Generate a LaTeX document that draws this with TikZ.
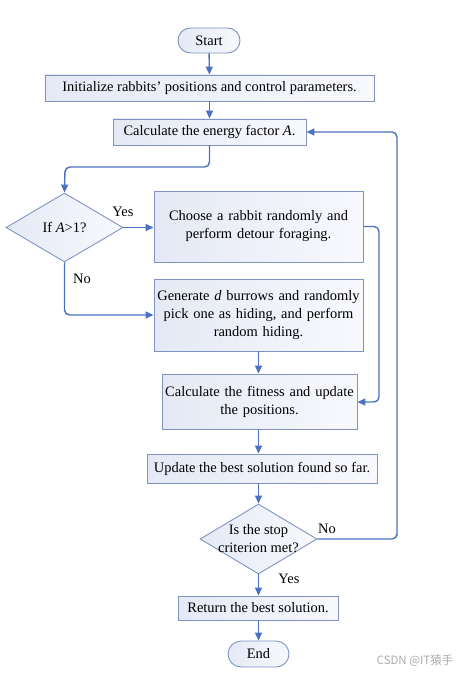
\documentclass[tikz,border=0pt]{standalone}
\usepackage{fontspec}
\setmainfont{Liberation Serif}
\newfontfamily\cjkfont{Noto Sans CJK SC}
\usetikzlibrary{shapes.geometric,shapes.misc,arrows.meta}
\definecolor{edgeblue}{HTML}{7F93C2}
\definecolor{arrowblue}{HTML}{4A72C0}
\definecolor{fillA}{HTML}{E4E9F5}
\definecolor{fillB}{HTML}{F8F9FD}
\tikzset{
  procbox/.style={draw=edgeblue, line width=0.9bp, left color=fillA, right color=fillB,
    inner sep=0pt, align=center, font=\fontsize{14.5}{18}\selectfont},
  termbox/.style={draw=edgeblue, line width=0.9bp, left color=fillA, right color=fillB,
    rounded rectangle, inner sep=0pt, font=\fontsize{14.5}{17}\selectfont},
  decbox/.style={draw=edgeblue, line width=0.9bp, left color=fillA, right color=fillB,
    diamond, inner sep=0pt},
  dectext/.style={align=center, inner sep=0pt, font=\fontsize{14.5}{18}\selectfont},
  flow/.style={draw=arrowblue, line width=1.4bp, rounded corners=5bp,
    -{Triangle[length=8bp,width=7bp]}},
  lbl/.style={inner sep=0pt, font=\fontsize{14.5}{17}\selectfont},
}
\begin{document}
\begin{tikzpicture}[x=1bp,y=-1bp]
\useasboundingbox (0,0) rectangle (473,676);
\fill[white] (0,0) rectangle (473,676);

\node[termbox, minimum width=62bp, minimum height=25bp] (start) at (209,40.5) {Start};
\node[procbox, minimum width=329bp, minimum height=26bp] (init) at (209.5,88) {Initialize rabbits' positions and control parameters.};
\node[procbox, minimum width=193bp, minimum height=26bp] (energy) at (209.5,132) {Calculate the energy factor \textit{A}.};

\node[decbox, minimum width=117bp, minimum height=69bp] (d1) at (64.5,227.5) {};
\node[dectext] (d1t) at (d1.center) {If \textit{A}>1?};

\node[procbox, minimum width=209bp, minimum height=71bp, text width=205bp] (choose) at (258.5,226.5) {Choose a rabbit randomly and\\ perform detour foraging.};
\node[procbox, minimum width=209bp, minimum height=72bp, text width=207bp] (gen) at (258.5,315) {Generate \textit{d} burrows and randomly\\ pick one as hiding, and perform\\ random hiding.};
\node[procbox, minimum width=195bp, minimum height=55bp, text width=193bp] (fit) at (259.5,401.5) {Calculate the fitness and update\\ the positions.};
\node[procbox, minimum width=230bp, minimum height=29bp] (upd) at (262,468.5) {Update the best solution found so far.};

\node[decbox, minimum width=117bp, minimum height=70bp] (d2) at (258.5,539) {};
\node[dectext] (d2t) at (d2.center) {Is the stop\\ criterion met?};

\node[procbox, minimum width=160bp, minimum height=24bp] (ret) at (258,608) {Return the best solution.};
\node[termbox, minimum width=61bp, minimum height=26bp] (end) at (258.5,654) {End};

\coordinate (c1) at (397,539);
\coordinate (c2) at (379,402);
\coordinate (k1) at (65,167);

\draw[flow] (start) -- (init);
\draw[flow] (init) -- (energy);
\draw[flow] (energy.south) |- (k1) -- (d1.north);
\draw[flow] (d1.east) -- (choose.west |- d1.east);
\draw[flow] (d1.south) |- (gen.west);
\draw[flow] (choose.east) -| (c2) -- (fit.east |- c2);
\draw[flow] (gen.south) -- (fit.north -| gen.south);
\draw[flow] (d2.north |- fit.south) -- (d2.north |- upd.north);
\draw[flow] (d2.north |- upd.south) -- (d2.north);
\draw[flow] (d2.south) -- (ret.north -| d2.south);
\draw[flow] (ret.south -| end.north) -- (end.north);
\draw[flow] (d2.east) -| (c1) |- (energy.east);

\node[lbl] (yes1) at (123,212) {Yes};
\node[lbl] (no1) at (82,279) {No};
\node[lbl] (no2) at (327,529) {No};
\node[lbl] (yes2) at (289,579) {Yes};

\node[inner sep=0pt, text=gray!65, font=\cjkfont\fontsize{11.5}{13}\selectfont] (wm) at (415,661) {CSDN @IT猿手};
\end{tikzpicture}
\end{document}
